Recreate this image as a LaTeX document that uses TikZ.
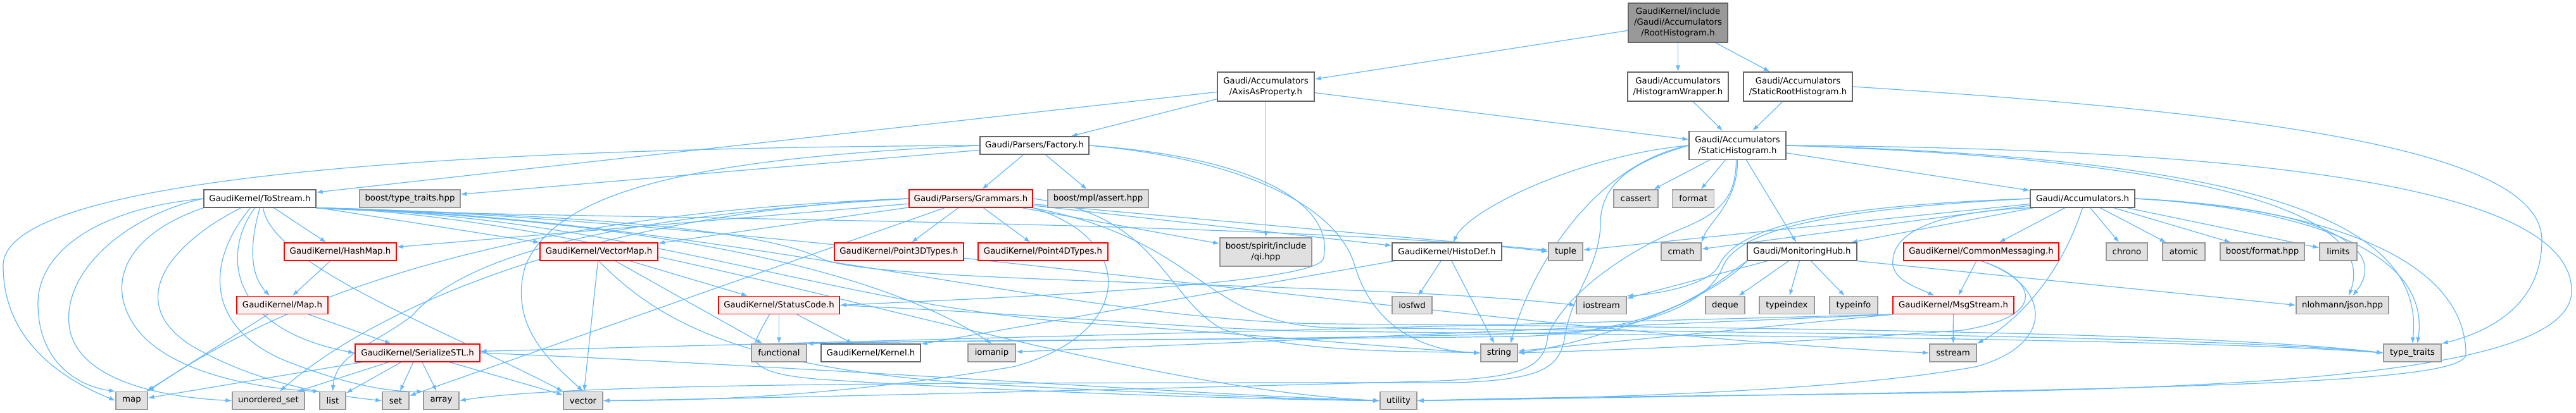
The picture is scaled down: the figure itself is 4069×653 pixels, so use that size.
\documentclass[tikz,border=0pt]{standalone}
\usepackage{fontspec}
\setmainfont{DejaVu Sans}
\usetikzlibrary{arrows.meta,backgrounds}
\definecolor{edgeblue}{HTML}{63B8FF}
\definecolor{boxgray}{HTML}{E0E0E0}
\definecolor{cutfill}{HTML}{FFF0F0}
\definecolor{rootfill}{HTML}{999999}
\definecolor{darkline}{HTML}{666666}
\definecolor{lightline}{HTML}{999999}

\begin{document}
\begin{tikzpicture}[x=1pt,y=-1pt]
    \tikzset{
      filebox/.style={
        draw=darkline,
        fill=white,
        line width=1.3pt,
        minimum height=28pt,
        inner sep=0pt,
        align=center,
        font=\fontsize{13.3}{17}\selectfont
      },
      extbox/.style={filebox,draw=lightline,fill=boxgray},
      cutbox/.style={filebox,draw=red,fill=cutfill},
      rootbox/.style={filebox,fill=rootfill},
      dep/.style={draw=edgeblue,line width=1.2pt,-{Latex[length=10pt,width=7pt]}}
    }
    \useasboundingbox (0,0) rectangle (4069,653);

    %Root file
    \node[rootbox,minimum width=157pt,minimum height=62pt] at (2650.5,36) (root) {GaudiKernel/include\\/Gaudi/Accumulators\\/RootHistogram.h};

    %Second row
    \node[filebox,minimum width=153pt,minimum height=46pt] at (1999.5,137) (axis) {Gaudi/Accumulators\\/AxisAsProperty.h};
    \node[filebox,minimum width=159pt,minimum height=46pt] at (2650.5,137) (hwrap) {Gaudi/Accumulators\\/HistogramWrapper.h};
    \node[filebox,minimum width=172pt,minimum height=46pt] at (2840,137) (srhist) {Gaudi/Accumulators\\/StaticRootHistogram.h};

    %Third row
    \node[filebox,minimum width=172pt] at (1634,230) (factory) {Gaudi/Parsers/Factory.h};
    \node[filebox,minimum width=153pt,minimum height=45pt] at (2744.5,230) (shist) {Gaudi/Accumulators\\/StaticHistogram.h};

    %Fourth row
    \node[filebox,minimum width=177pt] at (410.5,314) (tostream) {GaudiKernel/ToStream.h};
    \node[extbox,minimum width=159pt] at (647.5,314) (boosttt) {boost/type\_traits.hpp};
    \node[cutbox,minimum width=195pt] at (1533.5,314) (grammars) {Gaudi/Parsers/Grammars.h};
    \node[extbox,minimum width=159pt] at (1734.5,314) (mplassert) {boost/mpl/assert.hpp};
    \node[extbox,minimum width=70pt] at (2584,314) (cassert) {cassert};
    \node[extbox,minimum width=66pt] at (2674.5,314) (format) {format};
    \node[filebox,minimum width=165pt] at (3289.5,314) (accum) {Gaudi/Accumulators.h};

    %Fifth row
    \node[cutbox,minimum width=177pt] at (537.5,398) (hashmap) {GaudiKernel/HashMap.h};
    \node[cutbox,minimum width=186pt] at (946,398) (vectormap) {GaudiKernel/VectorMap.h};
    \node[cutbox,minimum width=204pt] at (1420,398) (p3d) {GaudiKernel/Point3DTypes.h};
    \node[cutbox,minimum width=205pt] at (1647.5,398) (p4d) {GaudiKernel/Point4DTypes.h};
    \node[extbox,minimum width=145pt,minimum height=45pt] at (1999.5,398.5) (qi) {boost/spirit/include\\/qi.hpp};
    \node[filebox,minimum width=173pt] at (2285.5,398) (histodef) {GaudiKernel/HistoDef.h};
    \node[extbox,minimum width=54pt] at (2473,398) (tuple) {tuple};
    \node[extbox,minimum width=63pt] at (2655.5,398) (cmath) {cmath};
    \node[filebox,minimum width=173pt] at (2846.5,398) (monhub) {Gaudi/MonitoringHub.h};
    \node[cutbox,minimum width=245pt] at (3129.5,398) (commsg) {GaudiKernel/CommonMessaging.h};
    \node[extbox,minimum width=65pt] at (3359.5,398) (chrono) {chrono};
    \node[extbox,minimum width=67pt] at (3449.5,398) (atomic) {atomic};
    \node[extbox,minimum width=133pt] at (3573.5,398) (bformat) {boost/format.hpp};
    \node[extbox,minimum width=59pt] at (3693.5,398) (limits) {limits};

    %Sixth row
    \node[cutbox,minimum width=144pt] at (446,482.5) (mapH) {GaudiKernel/Map.h};
    \node[cutbox,minimum width=191pt] at (1230.5,482.5) (status) {GaudiKernel/StatusCode.h};
    \node[extbox,minimum width=63pt] at (2230.5,482.5) (iosfwd) {iosfwd};
    \node[extbox,minimum width=79pt] at (2529.5,482.5) (iostream) {iostream};
    \node[extbox,minimum width=62pt] at (2725,482.5) (deque) {deque};
    \node[extbox,minimum width=87pt] at (2822.5,482.5) (typeindex) {typeindex};
    \node[extbox,minimum width=76pt] at (2928,482.5) (typeinfo) {typeinfo};
    \node[cutbox,minimum width=191pt] at (3085.5,482.5) (msgstream) {GaudiKernel/MsgStream.h};
    \node[extbox,minimum width=146pt] at (3700,482.5) (nlohmann) {nlohmann/json.hpp};

    %Seventh row
    \node[cutbox,minimum width=197pt] at (659.5,558) (serialize) {GaudiKernel/SerializeSTL.h};
    \node[extbox,minimum width=87pt] at (1230.5,558) (functional) {functional};
    \node[filebox,minimum width=157pt] at (1375.5,558) (kernel) {GaudiKernel/Kernel.h};
    \node[extbox,minimum width=75pt] at (1566.5,558) (iomanip) {iomanip};
    \node[extbox,minimum width=58pt] at (2368,558) (string) {string};
    \node[extbox,minimum width=74pt] at (3085,558) (sstream) {sstream};
    \node[extbox,minimum width=91pt] at (3810.5,558) (typetraits) {type\_traits};

    %Bottom row
    \node[extbox,minimum width=50pt] at (208,633.5) (map) {map};
    \node[extbox,minimum width=114pt] at (424,633.5) (uset) {unordered\_set};
    \node[extbox,minimum width=41pt] at (525.5,633.5) (list) {list};
    \node[extbox,minimum width=42pt] at (625,633.5) (set) {set};
    \node[extbox,minimum width=56pt] at (697,633.5) (array) {array};
    \node[extbox,minimum width=62pt] at (921,633.5) (vector) {vector};
    \node[extbox,minimum width=58pt] at (2209,633.5) (utility) {utility};

    \begin{pgfonlayer}{background}
    %Root includes
    \draw[dep] (root) -- (axis);
    \draw[dep] (root) -- (hwrap);
    \draw[dep] (root) -- (srhist);

    %AxisAsProperty.h, HistogramWrapper.h, StaticRootHistogram.h
    \draw[dep] (axis) -- (tostream);
    \draw[dep] (axis) -- (factory);
    \draw[dep] (axis) -- (qi);
    \draw[dep] (axis) -- (shist);
    \draw[dep] (hwrap) -- (shist);
    \draw[dep] (srhist) -- (shist);
    \draw[dep] (srhist.east) .. controls (3600,180) and (4015,240) .. (4015,380) .. controls (4015,470) and (3950,520) .. (typetraits.north east);

    %Factory.h
    \draw[dep] (factory) -- (grammars);
    \draw[dep] (factory) -- (mplassert);
    \draw[dep] (factory) -- (boosttt);
    \draw[dep] (factory.west) .. controls (700,234) and (5,280) .. (5,420) .. controls (5,540) and (100,600) .. (map.west);
    \draw[dep] (factory.west) .. controls (1100,250) and (880,300) .. (830,420) .. controls (800,520) and (880,580) .. (vector.north);
    \draw[dep] (factory.east) .. controls (1950,250) and (2110,320) .. (2140,420) .. controls (2170,520) and (2250,555) .. (string.west);
    \draw[dep] (factory.east) .. controls (2000,250) and (2110,330) .. (2090,410) .. controls (2070,450) and (1600,470) .. (status.east);

    %Grammars.h
    \draw[dep] (grammars) -- (hashmap);
    \draw[dep] (grammars) -- (vectormap);
    \draw[dep] (grammars) -- (p3d);
    \draw[dep] (grammars) -- (p4d);
    \draw[dep] (grammars) -- (qi);
    \draw[dep] (grammars) -- (histodef);
    \draw[dep] (grammars) -- (tuple);
    \draw[dep] (grammars) -- (set);
    \draw[dep] (grammars.west) .. controls (1000,330) and (550,400) .. (map.north east);
    \draw[dep] (grammars.west) .. controls (950,335) and (600,480) .. ([xshift=18pt]uset.north);
    \draw[dep] (grammars.west) .. controls (900,345) and (720,420) .. (650,500) .. controls (590,545) and (530,560) .. (list.north);
    \draw[dep] (grammars.east) .. controls (1830,340) and (1840,470) .. (1930,520) .. controls (2050,560) and (2250,555) .. (string.west);
    \draw[dep] (grammars.south east) .. controls (1900,380) and (1900,512) .. (2100,518) .. controls (2800,525) and (3500,532) .. (typetraits.west);
    \draw[dep] (grammars.south east) .. controls (1800,380) and (1790,530) .. (1600,580) .. controls (1300,630) and (1100,633) .. (vector.east);

    %ToStream.h
    \draw[dep] (tostream) -- (hashmap);
    \draw[dep] (tostream) -- (vectormap);
    \draw[dep] (tostream.west) .. controls (150,330) and (60,400) .. (60,480) .. controls (60,570) and (120,610) .. (map.north west);
    \draw[dep] (tostream.west) .. controls (200,340) and (95,430) .. (110,520) .. controls (125,600) and (250,628) .. (uset.west);
    \draw[dep] (tostream.south west) .. controls (200,370) and (160,450) .. (220,525) .. controls (280,595) and (420,615) .. (list.north west);
    \draw[dep] ([xshift=-30pt]tostream.south) .. controls (260,390) and (200,480) .. (300,545) .. controls (400,605) and (520,625) .. (set.west);
    \draw[dep] ([xshift=-15pt]tostream.south) .. controls (320,420) and (330,520) .. (450,570) .. controls (550,610) and (620,620) .. (array.north west);
    \draw[dep] ([xshift=-8pt]tostream.south) .. controls (350,400) and (360,520) .. (serialize.west);
    \draw[dep] (tostream.south) .. controls (390,400) and (400,440) .. ([xshift=-20pt]mapH.north);
    \draw[dep] ([xshift=5pt]tostream.south) .. controls (430,420) and (700,520) .. (vector.north west);
    \draw[dep] (tostream.south east) .. controls (700,345) and (2000,345) .. (tuple.west);
    \draw[dep] (tostream.south east) .. controls (900,340) and (1200,360) .. (1300,410) .. controls (1400,450) and (2150,445) .. (iostream.west);
    \draw[dep] (tostream.south east) .. controls (900,342) and (1350,400) .. (iomanip.north);
    \draw[dep] (tostream.south east) .. controls (1000,342) and (1300,480) .. (1700,510) .. controls (2000,530) and (2200,550) .. (string.west);
    \draw[dep] (tostream.south east) .. controls (1200,342) and (2400,530) .. (sstream.west);
    \draw[dep] (tostream.south east) .. controls (1100,340) and (1700,510) .. (2100,512) .. controls (2800,518) and (3500,526) .. (typetraits.west);
    \draw[dep] (tostream.south east) .. controls (1000,342) and (1700,610) .. (utility.west);

    %HashMap.h, Map.h, SerializeSTL.h
    \draw[dep] (hashmap) -- (mapH);
    \draw[dep] (mapH) -- (map);
    \draw[dep] (mapH) -- (serialize);
    \draw[dep] (serialize) -- (map);
    \draw[dep] (serialize) -- (uset);
    \draw[dep] (serialize) -- (list);
    \draw[dep] (serialize) -- (set);
    \draw[dep] (serialize) -- (array);
    \draw[dep] (serialize) -- (vector);
    \draw[dep] (serialize.east) .. controls (1200,575) and (1900,625) .. (utility.west);

    %VectorMap.h, StatusCode.h, HistoDef.h
    \draw[dep] (vectormap) -- (vector);
    \draw[dep] (vectormap) -- (status);
    \draw[dep] (vectormap) -- (functional);
    \draw[dep] (vectormap.south) .. controls (1050,520) and (1200,590) .. (1600,610) .. controls (1900,625) and (2100,633) .. (utility.west);
    \draw[dep] (status) -- (functional);
    \draw[dep] (status) -- (kernel);
    \draw[dep] ([xshift=-15pt]status.south) .. controls (1180,560) and (1160,590) .. (1300,600) .. controls (1600,620) and (2000,632) .. (utility.west);
    \draw[dep] (status.east) .. controls (1700,500) and (1900,522) .. (2100,524) .. controls (2800,531) and (3500,538) .. (typetraits.west);
    \draw[dep] (histodef) -- (iosfwd);
    \draw[dep] (histodef) -- (string);
    \draw[dep] (histodef) -- (kernel);

    %StaticHistogram.h
    \draw[dep] (shist) -- (cassert);
    \draw[dep] (shist) -- (format);
    \draw[dep] (shist) -- (monhub);
    \draw[dep] (shist) -- (accum);
    \draw[dep] (shist.west) .. controls (2500,245) and (2320,330) .. ([xshift=10pt]histodef.north);
    \draw[dep] (shist.west) .. controls (2520,260) and (2420,420) .. ([xshift=18pt]string.north);
    \draw[dep] (shist.west) .. controls (2580,255) and (2525,290) .. (2528,360) .. controls (2522,430) and (2485,460) .. (2472,530) .. controls (2465,585) and (2430,600) .. (2300,605) .. controls (1500,605) and (900,605) .. (array.east);
    \draw[dep] ([xshift=-2pt]shist.south) .. controls (2742,310) and (2720,335) .. (2660,360) .. controls (2560,400) and (2470,470) .. (2445,530) .. controls (2440,585) and (2400,598) .. (2250,603) .. controls (1800,615) and (1200,630) .. (vector.east);
    \draw[dep] (shist.south) .. controls (2745,320) and (2700,350) .. (cmath.north east);
    \draw[dep] (shist.east) .. controls (3450,250) and (3760,330) .. ([xshift=10pt]nlohmann.north);
    \draw[dep] (shist.east) .. controls (3600,250) and (3830,360) .. (typetraits.north);
    \draw[dep] (shist.east) .. controls (3600,235) and (4062,300) .. (4062,460) .. controls (4062,650) and (3000,612) .. (utility.east);

    %Accumulators.h
    \draw[dep] (accum) -- (chrono);
    \draw[dep] (accum) -- (atomic);
    \draw[dep] (accum) -- (bformat);
    \draw[dep] (accum) -- (limits);
    \draw[dep] (accum) -- (commsg);
    \draw[dep] (accum) -- (monhub);
    \draw[dep] (accum) -- (tuple);
    \draw[dep] (accum) -- (cmath);
    \draw[dep] (accum.south) .. controls (3260,420) and (3200,500) .. (sstream.north east);
    \draw[dep] (accum.west) .. controls (2900,325) and (2745,355) .. (2715,420) .. controls (2700,450) and (2620,465) .. (iostream.north east);
    \draw[dep] (accum.south west) .. controls (3050,335) and (2985,370) .. (2990,420) .. controls (2995,445) and (3030,455) .. ([xshift=-30pt]msgstream.north);
    \draw[dep] (accum.west) .. controls (2900,330) and (2750,360) .. (2722,420) .. controls (2700,480) and (2600,525) .. (2400,532) .. controls (2000,537) and (1500,537) .. (functional.north east);
    \draw[dep] (accum.east) .. controls (3700,330) and (3770,400) .. ([xshift=16pt]nlohmann.north);
    \draw[dep] (accum.east) .. controls (3650,330) and (3840,400) .. ([xshift=8pt]typetraits.north);
    \draw[dep] (accum.east) .. controls (3700,330) and (3895,420) .. (3895,560) .. controls (3895,610) and (3400,615) .. (utility.east);

    %MonitoringHub.h
    \draw[dep] (monhub) -- (deque);
    \draw[dep] (monhub) -- (typeindex);
    \draw[dep] (monhub) -- (typeinfo);
    \draw[dep] (monhub) -- (iostream);
    \draw[dep] (monhub.south east) -- (nlohmann.west);
    \draw[dep] (monhub.south west) .. controls (2720,440) and (2650,510) .. (2480,525) .. controls (2100,538) and (1500,538) .. (functional.north east);
    \draw[dep] (monhub.south west) .. controls (2700,480) and (2500,545) .. (string.east);

    %CommonMessaging.h, MsgStream.h
    \draw[dep] (commsg) -- (msgstream);
    \draw[dep] (commsg.south) .. controls (3215,440) and (3240,500) .. (3100,522) .. controls (2800,545) and (2500,555) .. (string.east);
    \draw[dep] (commsg.south) .. controls (3240,450) and (3250,545) .. (3120,580) .. controls (2900,620) and (2500,630) .. (utility.east);
    \draw[dep] (msgstream) -- (sstream);
    \draw[dep] (msgstream.south west) -- (serialize);
    \draw[dep] (msgstream.south west) -- (iomanip);
    \draw[dep] (msgstream.south west) -- (string);
    \end{pgfonlayer}
  \end{tikzpicture}
\end{document}
